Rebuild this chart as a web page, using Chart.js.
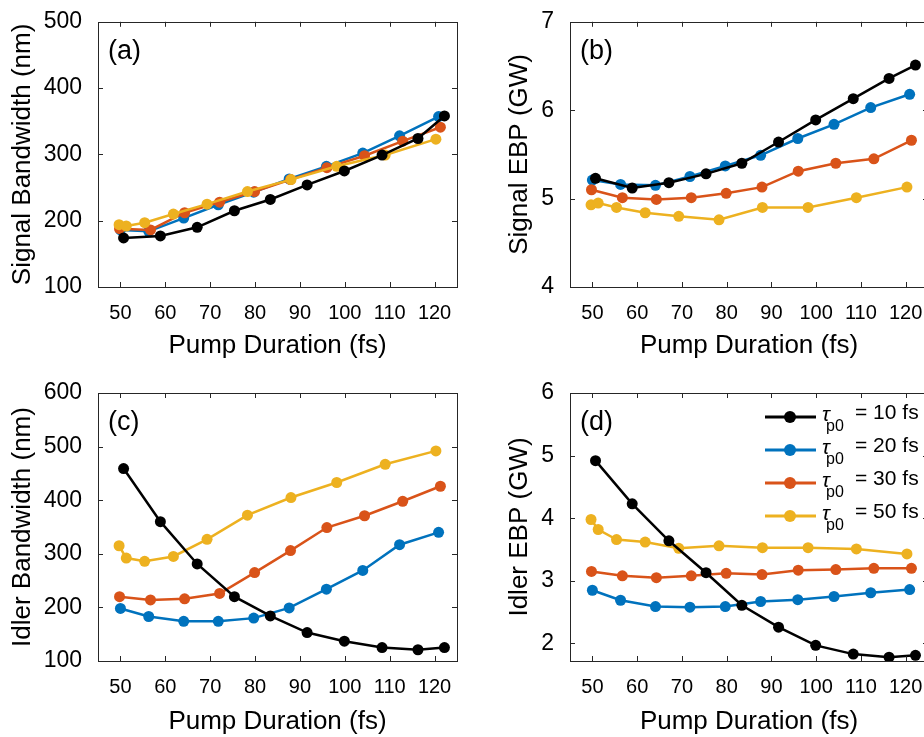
<!DOCTYPE html>
<html>
<head>
<meta charset="utf-8">
<title>Signal and idler vs pump duration</title>
<script src="https://cdn.jsdelivr.net/npm/chart.js@4/dist/chart.umd.min.js"></script>
<style>
  html, body { margin: 0; padding: 0; background: #fff; overflow: hidden; }
  #figure { position: relative; width: 924px; height: 737px; overflow: hidden; }
  #figure canvas { position: absolute; }
</style>
</head>
<body>
<div id="figure">
  <canvas id="panel-a" width="480" height="370" style="left:0;top:0"></canvas>
  <canvas id="panel-b" width="460" height="370" style="left:497px;top:0"></canvas>
  <canvas id="panel-c" width="480" height="367" style="left:0;top:370px"></canvas>
  <canvas id="panel-d" width="460" height="367" style="left:497px;top:370px"></canvas>
</div>
<script>
// pump durations (fs) reached for each input pulse width tau_p0
const dur10 = [50.7, 58.9, 67.1, 75.4, 83.4, 91.6, 99.9, 108.3, 116.3, 122.2]
const dur20 = [50.0, 56.3, 64.1, 71.8, 79.7, 87.6, 95.9, 104.0, 112.2, 120.9]
const dur30 = [49.8, 56.7, 64.3, 72.1, 79.9, 87.9, 96.0, 104.4, 112.9, 121.3]
const dur50 = [49.7, 51.3, 55.4, 61.8, 69.3, 78.3, 88.0, 98.2, 109.0, 120.3]

// (a) signal bandwidth, nm
const sigBw10 = [174, 177, 190, 215, 232, 254, 275, 299, 324, 358]
const sigBw20 = [186, 184, 204, 224, 243, 263, 282, 302, 328, 357]
const sigBw30 = [188, 186, 212, 228, 244, 262, 280, 298, 320, 341]
const sigBw50 = [194, 192, 197, 210, 225, 244, 262, 282, 299, 323]

// (b) signal EBP, GW
const sigEbp10 = [5.23, 5.12, 5.18, 5.28, 5.40, 5.64, 5.89, 6.13, 6.36, 6.51]
const sigEbp20 = [5.21, 5.16, 5.15, 5.25, 5.37, 5.49, 5.68, 5.84, 6.03, 6.18]
const sigEbp30 = [5.10, 5.01, 4.99, 5.01, 5.06, 5.13, 5.31, 5.40, 5.45, 5.66]
const sigEbp50 = [4.93, 4.95, 4.90, 4.84, 4.80, 4.76, 4.90, 4.90, 5.01, 5.13]

// (c) idler bandwidth, nm
const idBw10 = [459, 360, 281, 220, 184, 153, 137, 125, 121, 125]
const idBw20 = [198, 183, 174, 174, 180, 199, 234, 269, 317, 340]
const idBw30 = [220, 214, 216, 226, 265, 306, 349, 371, 398, 426]
const idBw50 = [315, 292, 286, 295, 327, 372, 405, 433, 467, 492]

// (d) idler EBP, GW
const idEbp10 = [4.92, 4.23, 3.64, 3.13, 2.61, 2.26, 1.97, 1.83, 1.78, 1.81]
const idEbp20 = [2.85, 2.69, 2.59, 2.58, 2.59, 2.67, 2.70, 2.75, 2.81, 2.86]
const idEbp30 = [3.15, 3.08, 3.05, 3.08, 3.12, 3.10, 3.17, 3.18, 3.20, 3.20]
const idEbp50 = [3.98, 3.82, 3.66, 3.62, 3.52, 3.56, 3.53, 3.53, 3.51, 3.43]

const xTicks = [50, 60, 70, 80, 90, 100, 110, 120]
const sigBwTicks = [100, 200, 300, 400, 500]
const sigEbpTicks = [4, 5, 6, 7]
const idBwTicks = [100, 200, 300, 400, 500, 600]
const idEbpTicks = [2, 3, 4, 5, 6]

const pulseWidths = ['10', '20', '30', '50']
const colours = ['#000000', '#0072bd', '#d95319', '#edb120']
const drawOrder = [0, 3, 2, 1] // black sits on top
const durations = [dur10, dur20, dur30, dur50]

const FONT = '"Liberation Sans", Arial, Helvetica, sans-serif'

// matlab style box with inward ticks, plus the panel letter
const axesBox = {
  id: 'axesBox',
  afterDraw(chart, args, opts) {
    const { ctx, chartArea } = chart
    const { left, right, top, bottom } = chartArea
    const xs = chart.scales.x
    const ys = chart.scales.y
    ctx.save()
    ctx.strokeStyle = '#262626'
    ctx.lineWidth = 1
    ctx.strokeRect(Math.round(left) + 0.5, Math.round(top) + 0.5, Math.round(right - left), Math.round(bottom - top))
    ctx.beginPath()
    xs.ticks.forEach((t) => {
      const px = Math.round(xs.getPixelForValue(t.value)) + 0.5
      ctx.moveTo(px, bottom); ctx.lineTo(px, bottom - 5)
      ctx.moveTo(px, top); ctx.lineTo(px, top + 5)
    })
    ys.ticks.forEach((t) => {
      const py = Math.round(ys.getPixelForValue(t.value)) + 0.5
      ctx.moveTo(left, py); ctx.lineTo(left + 5, py)
      ctx.moveTo(right, py); ctx.lineTo(right - 5, py)
    })
    ctx.stroke()
    ctx.fillStyle = '#000'
    ctx.font = `27px ${FONT}`
    ctx.textBaseline = 'middle'
    ctx.fillText(opts.letter, left + 10, top + 30)
    ctx.restore()
  },
}

// legend with the tau_p0 subscript, only used on panel (d)
const tauLegend = {
  id: 'tauLegend',
  afterDraw(chart) {
    const { ctx, chartArea: { left, top } } = chart
    ctx.save()
    chart.data.datasets.forEach((ds, i) => {
      const y = top + 24 + i * 33
      ctx.strokeStyle = ds.borderColor
      ctx.lineWidth = 3
      ctx.beginPath()
      ctx.moveTo(left + 195, y)
      ctx.lineTo(left + 246, y)
      ctx.stroke()
      ctx.fillStyle = ds.backgroundColor
      ctx.beginPath()
      ctx.arc(left + 220, y, 6, 0, Math.PI * 2)
      ctx.fill()
      ctx.fillStyle = '#000'
      ctx.textBaseline = 'middle'
      ctx.font = `italic 21px ${FONT}`
      ctx.fillText('τ', left + 252, y - 2)
      ctx.font = `16px ${FONT}`
      ctx.fillText('p0', left + 256, y + 10)
      ctx.font = `21px ${FONT}`
      ctx.fillText(`= ${pulseWidths[i]} fs`, left + 285, y - 4)
    })
    ctx.restore()
  },
}

function makeDatasets(series) {
  return series.map((ys, i) => ({
    label: `τp0 = ${pulseWidths[i]} fs`,
    data: ys.map((y, j) => ({ x: durations[i][j], y })),
    borderColor: colours[i],
    backgroundColor: colours[i],
    borderWidth: 2.5,
    pointRadius: 5.5,
    pointHoverRadius: 5.5,
    pointBorderWidth: 0,
    order: drawOrder[i],
  }))
}

function makeChart(id, p) {
  const ctx = document.getElementById(id)
  return new Chart(ctx, {
    type: 'line',
    data: { datasets: makeDatasets(p.series) },
    options: {
      responsive: false,
      animation: false,
      events: [],
      layout: { padding: { top: p.top, right: p.right, left: 0, bottom: 0 } },
      scales: {
        x: {
          type: 'linear',
          min: 45,
          max: 125,
          afterBuildTicks: (s) => { s.ticks = xTicks.map((value) => ({ value })) },
          afterFit: (s) => { s.height = p.xHeight },
          grid: { display: false },
          border: { display: false },
          ticks: { padding: 6, color: '#000', autoSkip: false, maxRotation: 0, font: { size: 20, family: FONT } },
          title: {
            display: true,
            text: 'Pump Duration (fs)',
            color: '#000',
            font: { size: 26, family: FONT, lineHeight: 1 },
            padding: { top: 0, bottom: p.xTitlePad },
          },
        },
        y: {
          type: 'linear',
          min: p.yMin,
          max: p.yMax,
          afterBuildTicks: (s) => { s.ticks = p.yTicks.map((value) => ({ value })) },
          afterFit: (s) => { s.width = p.yWidth },
          grid: { display: false },
          border: { display: false },
          ticks: { padding: 8, color: '#000', font: { size: 23, family: FONT } },
          title: {
            display: true,
            text: p.yTitle,
            color: '#000',
            font: { size: 26, family: FONT, lineHeight: 1 },
            padding: { top: 10, bottom: 0 },
          },
        },
      },
      plugins: {
        legend: { display: false },
        tooltip: { enabled: false },
        axesBox: { letter: p.letter },
      },
    },
    plugins: p.legend ? [axesBox, tauLegend] : [axesBox],
  })
}

makeChart('panel-a', {
  letter: '(a)', series: [sigBw10, sigBw20, sigBw30, sigBw50],
  yMin: 100, yMax: 500, yTicks: sigBwTicks, yTitle: 'Signal Bandwidth (nm)',
  top: 17, right: 23, yWidth: 98, xHeight: 83, xTitlePad: 11,
})
makeChart('panel-b', {
  letter: '(b)', series: [sigEbp10, sigEbp20, sigEbp30, sigEbp50],
  yMin: 4, yMax: 7, yTicks: sigEbpTicks, yTitle: 'Signal EBP (GW)',
  top: 17, right: 29, yWidth: 73, xHeight: 83, xTitlePad: 11,
})
makeChart('panel-c', {
  letter: '(c)', series: [idBw10, idBw20, idBw30, idBw50],
  yMin: 100, yMax: 600, yTicks: idBwTicks, yTitle: 'Idler Bandwidth (nm)',
  top: 23, right: 23, yWidth: 98, xHeight: 76, xTitlePad: 2,
})
makeChart('panel-d', {
  letter: '(d)', series: [idEbp10, idEbp20, idEbp30, idEbp50],
  yMin: 1.72, yMax: 6, yTicks: idEbpTicks, yTitle: 'Idler EBP (GW)',
  top: 23, right: 29, yWidth: 73, xHeight: 76, xTitlePad: 2, legend: true,
})
</script>
</body>
</html>
